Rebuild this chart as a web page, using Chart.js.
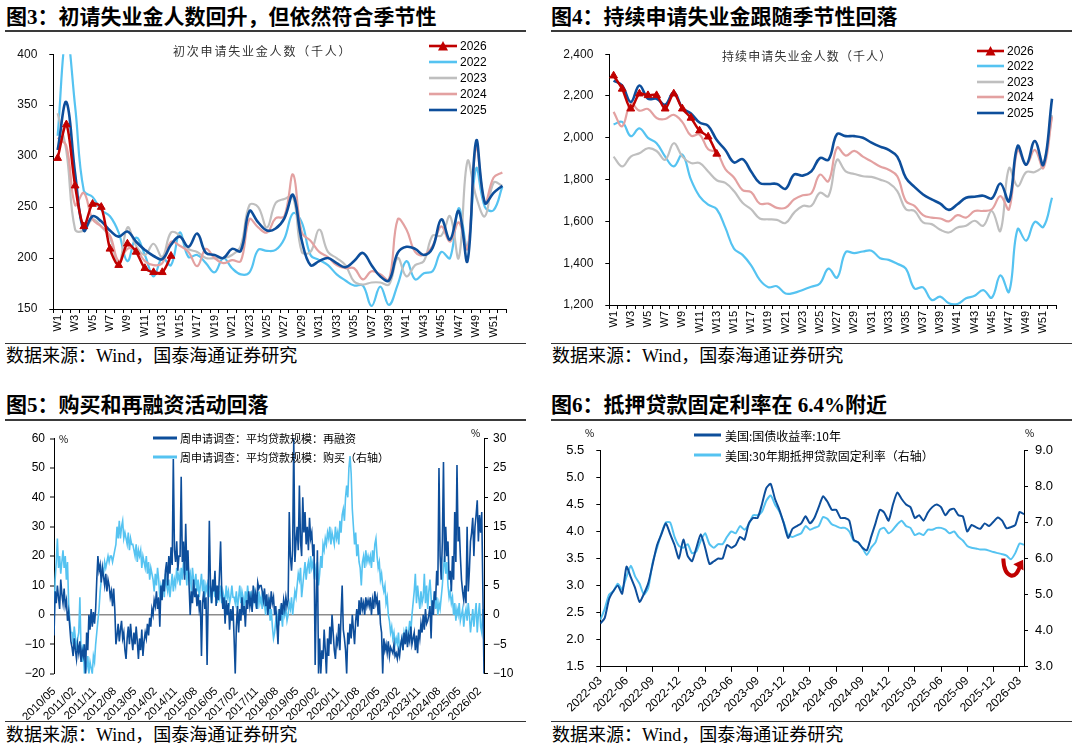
<!DOCTYPE html>
<html><head><meta charset="utf-8">
<script src="https://cdn.jsdelivr.net/npm/chart.js@4.4.1/dist/chart.umd.min.js"></script>
<style>
html,body{margin:0;padding:0;background:#fff;}
#page{position:relative;width:1077px;height:747px;overflow:hidden;background:#fff;font-family:"Liberation Sans",Arial,"Noto Sans CJK SC",sans-serif;}
.title{position:absolute;font-family:"Liberation Serif","Noto Sans CJK SC",serif;font-weight:bold;font-size:21px;color:#000;white-space:nowrap;line-height:24px;}
.rule{position:absolute;height:1.5px;background:#3a3a3a;}
.rule2{position:absolute;height:1px;background:#333;}
.src{position:absolute;font-family:"Liberation Serif","Noto Sans CJK SC",serif;font-size:18px;color:#000;white-space:nowrap;line-height:20px;}
.box{position:absolute;}
.leg{position:absolute;color:#000;white-space:nowrap;display:flex;align-items:center;}
.note{position:absolute;font-family:"Noto Sans CJK SC",sans-serif;font-size:12px;color:#333;white-space:nowrap;line-height:14px;}
.unit{position:absolute;font-family:"Noto Sans CJK SC",sans-serif;font-size:10px;color:#000;line-height:12px;}
</style></head>
<body>
<div id="page">
  <div class="title" style="left:6px;top:5px;">图3：初请失业金人数回升，但依然符合季节性</div>
  <div class="rule" style="left:5px;top:30px;width:521px;"></div>
  <div class="title" style="left:551px;top:5px;">图4：持续申请失业金跟随季节性回落</div>
  <div class="rule" style="left:551px;top:30px;width:521px;"></div>
  <div class="title" style="left:6px;top:393px;">图5：购买和再融资活动回落</div>
  <div class="rule" style="left:5px;top:419px;width:521px;"></div>
  <div class="title" style="left:551px;top:393px;">图6：抵押贷款固定利率在 6.4%附近</div>
  <div class="rule" style="left:551px;top:419px;width:521px;"></div>

  <div class="box" style="left:0px;top:35px;width:530px;height:305px;"><canvas id="c3" width="530" height="305"></canvas></div>
  <div class="box" style="left:537px;top:35px;width:535px;height:305px;"><canvas id="c4" width="535" height="305"></canvas></div>
  <div class="box" style="left:0px;top:425px;width:530px;height:295px;"><canvas id="c5" width="530" height="295"></canvas></div>
  <div class="box" style="left:537px;top:425px;width:535px;height:295px;"><canvas id="c6" width="535" height="295"></canvas></div>

  <div class="note" style="left:173px;top:44px;letter-spacing:1.8px;">初次申请失业金人数（千人）</div>
  <div class="note" style="left:722px;top:49px;letter-spacing:1.1px;">持续申请失业金人数（千人）</div>
  <div class="unit" style="left:59px;top:433px;">%</div>
  <div class="unit" style="left:471px;top:427px;">%</div>
  <div class="unit" style="left:585px;top:427px;">%</div>
  <div class="unit" style="left:1025px;top:427px;">%</div>

  <div class="rule2" style="left:5px;top:343px;width:521px;"></div>
  <div class="src" style="left:6px;top:346px;">数据来源：Wind，国泰海通证券研究</div>
  <div class="rule2" style="left:551px;top:343px;width:521px;"></div>
  <div class="src" style="left:552px;top:346px;">数据来源：Wind，国泰海通证券研究</div>
  <div class="rule2" style="left:5px;top:721px;width:521px;"></div>
  <div class="src" style="left:6px;top:725px;">数据来源：Wind，国泰海通证券研究</div>
  <div class="rule2" style="left:551px;top:721px;width:521px;"></div>
  <div class="src" style="left:552px;top:725px;">数据来源：Wind，国泰海通证券研究</div>
</div>
<script>
// ---------------- DATA ----------------
// Figure 3: initial jobless claims (thousands), weeks W1..W52
const weekLabels = Array.from({length: 52}, (_, i) => 'W' + (i + 1));
const initial2022 = [320, 420, 349, 266, 260, 247, 241, 225, 197, 220, 203, 182, 200, 193, 225, 201, 203, 195, 186, 200, 190, 184, 186, 208, 207, 208, 219, 244, 235, 203, 198, 193, 184, 178, 173, 173, 153, 172, 154, 174, 197, 179, 185, 187, 206, 200, 249, 210, 288, 250, 247, 270];
const initial2023 = [342, 305, 228, 227, 238, 231, 220, 193, 230, 212, 203, 214, 201, 225, 222, 209, 206, 200, 200, 200, 203, 212, 252, 250, 230, 254, 258, 260, 206, 206, 228, 206, 200, 193, 177, 174, 176, 176, 174, 200, 182, 193, 197, 222, 222, 241, 200, 295, 260, 241, 274, 271];
const initial2024 = [318, 310, 252, 264, 238, 231, 222, 197, 209, 208, 197, 193, 195, 216, 212, 206, 192, 209, 200, 195, 198, 197, 238, 230, 225, 239, 241, 282, 225, 217, 206, 201, 193, 190, 190, 179, 187, 184, 179, 238, 228, 206, 203, 212, 231, 216, 235, 209, 309, 254, 279, 284];
const initial2025 = [306, 353, 283, 227, 241, 236, 227, 221, 226, 216, 208, 202, 199, 213, 221, 211, 224, 205, 203, 200, 209, 207, 246, 235, 227, 229, 239, 262, 217, 193, 197, 200, 195, 191, 197, 205, 193, 182, 178, 205, 211, 209, 203, 210, 238, 218, 246, 197, 315, 254, 264, 271];
const initial2026 = [298, 331, 271, 231, 253, 250, 209, 193, 214, 206, 190, 186, 186, 202];

// Figure 4: continuing claims (thousands)
const cont2022 = [2064, 2076, 2008, 2045, 2000, 1974, 1910, 1863, 1920, 1800, 1720, 1680, 1658, 1570, 1470, 1440, 1390, 1320, 1285, 1290, 1255, 1258, 1272, 1287, 1303, 1374, 1331, 1453, 1448, 1456, 1460, 1424, 1416, 1397, 1374, 1279, 1284, 1224, 1240, 1208, 1205, 1232, 1244, 1271, 1235, 1342, 1263, 1563, 1508, 1598, 1574, 1713];
const cont2023 = [1910, 1863, 1910, 1926, 1950, 1937, 1895, 1974, 1910, 1879, 1879, 1839, 1797, 1784, 1745, 1689, 1658, 1614, 1610, 1607, 1592, 1642, 1674, 1674, 1737, 1721, 1895, 1839, 1827, 1816, 1813, 1800, 1784, 1745, 1658, 1650, 1595, 1587, 1560, 1547, 1571, 1579, 1603, 1579, 1650, 1555, 1855, 1768, 1836, 1836, 1871, 2108];
const cont2024 = [2124, 2055, 2165, 2130, 2138, 2095, 2090, 2110, 2075, 2010, 2015, 1945, 1930, 1850, 1810, 1750, 1740, 1685, 1685, 1665, 1665, 1705, 1725, 1734, 1824, 1792, 1953, 1915, 1937, 1910, 1887, 1863, 1847, 1816, 1697, 1674, 1630, 1618, 1614, 1600, 1630, 1618, 1650, 1650, 1658, 1721, 1658, 1942, 1871, 1942, 1855, 2100];
const cont2025 = [2274, 2250, 2171, 2250, 2187, 2187, 2158, 2218, 2143, 2116, 2073, 2057, 1989, 1942, 1882, 1898, 1839, 1784, 1779, 1779, 1756, 1824, 1819, 1839, 1903, 1895, 2018, 2008, 2008, 2000, 1977, 1958, 1942, 1910, 1808, 1765, 1729, 1705, 1685, 1655, 1682, 1713, 1718, 1723, 1710, 1781, 1697, 1961, 1871, 1985, 1871, 2187];
const cont2026 = [2297, 2234, 2139, 2211, 2203, 2203, 2139, 2211, 2139, 2095, 2034, 2005, 1923];

// Figure 5: MBA average loan size YoY (%), half-month steps starting 2010/05
const refiYoY = [
  -7, 8, 4, 10, 6, 2, 12, 7, 4, 9, 3, 5, -2, 1, -4, -9,
  -11, -14, -8, -12, -15, -10, -13, -9, -16, -12, -14, -10, -20, -6, -12, 0, -5, 2, -4, 1, -3, 2, 12, 20,
  15, 17, 11, 16, 13, 10, 14, 8, 12, 10, 6, 8, 3, 9, 2, -10, -7, -3, -9, -5, -2, -8, -6, -12,
  -15, -8, -4, -10, -3, -8, -12, -6, -10, -4, -9, -15, -8, -12, -5, -14, -9, -6, -8, -3, -7, -1, -4, 2,
  0, 5, 3, 8, 2, 6, -4, 10, 5, 12, 8, 15, 18, 10, 20, 14, 23, 17, 53, 22, 18, 25, 15, 20,
  20, 47, 18, 25, 12, 31, 15, 22, 10, 0, 8, 4, 12, 6, 9, 3, 7, 2, 5, -14, 4, 8, 2, 6,
  -17, 6, 32, 10, 4, 12, 8, 15, 3, 10, 5, 14, 25, 8, 2, 6, -3, 5, 0, 4, -5, 2, -2, 3,
  -8, -20, -4, 3, -6, 2, -2, 6, 0, 3, -4, 5, 2, 8, 3, 6, 1, 10, 4, 7, 2, 11, 9, 10,
  10, 8, 5, 9, 3, 7, 0, 5, 2, 8, 4, 6, 0, 3, -3, -10, 2, -2, 4, 0, 5, 2, 6, 3,
  5, 35, 20, 15, 22, 60, 18, 25, 30, 22, 44, 25, 20, 40, 28, 35, 24, 30, 22, 33, 26, 28, 20, 24,
  -17, 5, 22, -20, -8, -20, -12, -15, -5, -12, -20, -8, -14, -4, -10, 0, -6, -12, -15, -8, -10, -3, -12, 0,
  10, -5, -8, -12, -20, -6, -10, -3, -8, 0, -5, -10, -2, 2, -4, 5, 0, 6, 2, 4, 0, 6, 3, 5,
  3, 6, 0, 5, 2, 8, 4, 6, 0, 5, -3, -6, -20, -8, -12, -10, -13, -9, -14, -11, -12, -13, -10, -14,
  -13, -15, -12, -14, -10, -8, -12, -6, -10, -5, -11, -7, -9, -4, -10, -8, -6, -12, -7, -13, -5, -8, -3, -6,
  0, -5, 2, -3, -2, 0, 3, -8, 5, 0, 8, 5, 15, 10, 50, 20, 12, 25, 52, 18, 30, 20, 25, 12,
  15, 8, 20, 12, 35, 18, 51, 25, 30, 20, 12, 8, 5, 10, 4, 30, 8, 15, 25, 28, 33, 20, 30, 34,
  39, 25, 34, 28, 35, 8, -20
];
const purchaseYoY = [
  -2, 6, 9, 13, 8, 10, 7, 9, 11, 8, 10, 6, 9, 2, -1, -3,
  -3, -5, -2, -4, -6, -4, -3, 3, -6, -8, -5, -10, -8, -9, -7, -10, -8, -9, -10, -7, -8, -5, -3, -1,
  1, 4, 6, 8, 7, 9, 8, 9, 10, 9, 10, 10, 9, 10, 11, 12, 15, 13, 16, 13, 15, 16, 13, 14,
  13, 12, 14, 11, 13, 12, 12, 11, 10, 12, 9, 11, 10, 11, 8, 10, 9, 8, 10, 7, 9, 6, 8, 7,
  6, 4, 7, 5, 8, 6, 3, 5, 4, 6, 3, 7, 5, 4, 6, 3, 5, 7, 4, 6, 5, 8, 6, 7,
  5, 8, 6, 9, 7, 8, 5, 9, 6, 7, 4, 8, 6, 5, 7, 4, 6, 3, 5, 7, 4, 6, 3, 5,
  4, 6, 3, 5, 2, 4, 6, 3, 5, 2, 4, 3, 5, 2, 4, 3, 2, 5, 3, 4, 2, 3, 5, 3,
  3, 2, 4, 1, 3, 5, 2, 4, 3, 1, 4, 2, 5, 3, 2, 4, 1, 3, 4, 2, 3, 1, 4, 2,
  3, 1, 4, 2, 0, 2, 1, 3, -1, 1, -2, -4, -3, -1, -2, 0, -1, 1, 0, -2, 2, 0, 1, -1,
  0, 2, 1, 3, 0, 2, 4, 3, 5, 7, 6, 8, 3, 5, 7, 9, 6, 8, 9, 7, 10, 8, 9, 7,
  8, 6, 9, 5, 7, 10, 8, 12, 11, 13, 12, 14, 13, 15, 12, 14, 13, 12, 15, 13, 14, 12, 16, 14,
  17, 18, 16, 20, 22, 20, 25, 27, 24, 18, 15, 12, 14, 10, 12, 9, 8, 5, 9, 10, 8, 11, 9, 10,
  9, 10, 8, 11, 9, 12, 13, 10, 8, 9, 6, 7, 5, 4, 5, 2, 3, 0, -1, -3, -2, -4, -3, -5,
  -4, -5, -3, -6, -5, -4, -6, -3, -4, -2, -5, -3, -1, -3, 0, 2, 4, 7, 2, 5, 3, 1, 4, 2,
  3, 7, 2, 5, 1, 4, 6, 3, 0, 2, 4, 1, 3, 0, 2, 1, 3, 5, 8, 10, 7, 9, 5, 3,
  4, 2, 3, 0, 2, -1, 1, 0, 2, -1, 0, 1, -2, 0, 1, -1, 2, 0, -3, -1, 1, -2, 0, 2,
  -3, 0, 2, -2, -3, 1, -3
];

// Figure 6: half-month steps starting 2022-03
const ust10y = [2.30, 2.40, 2.75, 2.90, 3.00, 2.85, 3.35, 3.15, 2.95, 2.70, 2.85, 3.05, 3.40, 3.75, 3.95, 4.15, 3.95, 3.75, 3.50, 3.85, 3.55, 3.45, 3.70, 3.95, 3.70, 3.40, 3.45, 3.50, 3.50, 3.75, 3.70, 3.75, 3.90, 3.85, 4.15, 4.25, 4.25, 4.50, 4.80, 4.88, 4.60, 4.40, 4.15, 3.88, 4.05, 4.10, 4.15, 4.28, 4.15, 4.25, 4.45, 4.65, 4.55, 4.40, 4.40, 4.25, 4.25, 4.20, 3.85, 3.80, 3.70, 3.65, 3.90, 4.15, 4.40, 4.35, 4.20, 4.50, 4.72, 4.60, 4.50, 4.45, 4.25, 4.30, 4.20, 4.35, 4.45, 4.50, 4.45, 4.30, 4.40, 4.42, 4.30, 4.28, 4.00, 4.12, 4.08, 4.05, 4.15, 4.10, 4.18, 4.26, 4.20, 4.06, 4.08, 4.12, 4.36, 4.32];
const mortgage30y = [4.30, 4.60, 5.00, 5.10, 5.30, 5.15, 5.50, 5.80, 5.50, 5.30, 5.00, 5.20, 5.90, 6.30, 6.70, 7.00, 7.00, 6.60, 6.35, 6.30, 6.40, 6.15, 6.20, 6.50, 6.70, 6.40, 6.30, 6.40, 6.40, 6.60, 6.75, 6.70, 6.90, 6.80, 6.95, 7.20, 7.20, 7.30, 7.60, 7.75, 7.50, 7.30, 7.00, 6.65, 6.60, 6.65, 6.70, 6.90, 6.80, 6.85, 6.90, 7.15, 7.10, 6.95, 6.90, 6.85, 6.85, 6.75, 6.50, 6.45, 6.30, 6.10, 6.30, 6.45, 6.80, 6.85, 6.70, 6.80, 6.95, 7.05, 6.90, 6.85, 6.65, 6.70, 6.65, 6.80, 6.80, 6.85, 6.85, 6.80, 6.70, 6.75, 6.60, 6.50, 6.35, 6.30, 6.28, 6.25, 6.25, 6.22, 6.18, 6.15, 6.12, 6.08, 5.98, 6.15, 6.42, 6.38];

// ---------------- HELPERS ----------------
Chart.defaults.font.family = "'Liberation Sans', Arial, sans-serif";
Chart.defaults.color = '#000';
const C = {red: '#C00000', dark: '#0D4E9B', light: '#55C3F1', gray: '#BFBFBF', pink: '#E3A1A1'};
const noPlugins = {legend: {display: false}, tooltip: {enabled: false}};
const axisGrid = (len) => ({drawOnChartArea: false, drawTicks: true, tickLength: len, color: '#000', lineWidth: 1});
const thousands = v => String(v).replace(/\B(?=(\d{3})+(?!\d))/g, ',');
const minus = v => v < 0 ? '\u2212' + Math.abs(v) : String(v);
const pad2 = n => String(n).padStart(2, '0');
const ym5 = m => { const t = 4 + m; return (2010 + Math.floor(t / 12)) + '/' + pad2(t % 12 + 1); };
const ym6 = m => { const t = 2 + m; return (2022 + Math.floor(t / 12)) + '-' + pad2(t % 12 + 1); };
const halfMonth = arr => arr.map((v, i) => ({x: i * 0.5, y: v}));

function legend(items, o) {
  const page = document.getElementById('page');
  items.forEach((it, k) => {
    const d = document.createElement('div');
    d.className = 'leg';
    d.style.left = o.x + 'px';
    d.style.top = (o.y + k * o.dy - 8) + 'px';
    d.style.height = '16px';
    d.style.fontSize = o.fs + 'px';
    d.style.fontFamily = o.ff;
    const w = o.lw;
    let svg = '<svg width="' + w + '" height="16" style="flex:none"><line x1="0" y1="8" x2="' + w + '" y2="8" stroke="' + it.c + '" stroke-width="' + o.th + '"/>';
    if (it.tri) { const cx = w / 2; svg += '<polygon points="' + (cx - 5) + ',12.5 ' + (cx + 5) + ',12.5 ' + cx + ',3" fill="' + it.c + '"/>'; }
    svg += '</svg>';
    d.innerHTML = svg + '<span style="margin-left:' + o.gap + 'px">' + it.t + '</span>';
    page.appendChild(d);
  });
}

function weeklyChart(id, sets, yr, fmt, L) {
  const ds = sets.map(s => ({
    label: s.label, data: s.data, borderColor: s.color, backgroundColor: s.color,
    borderWidth: s.bw, tension: s.tri ? 0.3 : 0.4, order: s.order,
    pointRadius: s.tri ? 4.5 : 0, pointStyle: 'triangle',
    pointBackgroundColor: s.color, pointBorderColor: s.color, pointBorderWidth: 1
  }));
  return new Chart(document.getElementById(id), {
    type: 'line',
    data: {labels: weekLabels, datasets: ds},
    options: {
      responsive: false, animation: false, devicePixelRatio: 1,
      layout: {padding: {top: L.top, right: L.right, left: 0, bottom: 0}},
      plugins: noPlugins,
      scales: {
        x: {type: 'category', offset: true,
            grid: Object.assign(axisGrid(4), {offset: true}),
            border: {color: '#000', width: 1},
            ticks: {autoSkip: false, minRotation: 90, maxRotation: 90, padding: 2, font: {size: 11},
                    callback: (v, i) => i % 2 === 0 ? weekLabels[i] : ''},
            afterFit: s => { s.height = L.xh; }},
        y: {min: yr[0], max: yr[1],
            ticks: {stepSize: yr[2], padding: L.yp, font: {size: 12}, color: '#111', callback: fmt},
            grid: axisGrid(4), border: {color: '#000', width: 1},
            afterFit: s => { s.width = L.yw; }}
      }
    }
  });
}

// ---------------- FIGURE 3 ----------------
weeklyChart('c3', [
  {label: '2026', data: initial2026, color: C.red, bw: 2.5, tri: true, order: 0},
  {label: '2025', data: initial2025, color: C.dark, bw: 2.6, order: 1},
  {label: '2024', data: initial2024, color: C.pink, bw: 2.2, order: 2},
  {label: '2023', data: initial2023, color: C.gray, bw: 2.2, order: 3},
  {label: '2022', data: initial2022, color: C.light, bw: 2.2, order: 4}
], [150, 400, 50], v => v, {top: 10.7, right: 23.3, xh: 31, yw: 53.3, yp: 12});
legend([
  {t: '2026', c: C.red, tri: true}, {t: '2022', c: C.light}, {t: '2023', c: C.gray},
  {t: '2024', c: C.pink}, {t: '2025', c: C.dark}
], {x: 429, y: 46, dy: 16, lw: 28, th: 2.6, gap: 3, fs: 12, ff: "'Liberation Sans', Arial, sans-serif"});

// ---------------- FIGURE 4 ----------------
weeklyChart('c4', [
  {label: '2026', data: cont2026, color: C.red, bw: 2.5, tri: true, order: 0},
  {label: '2025', data: cont2025, color: C.dark, bw: 2.6, order: 1},
  {label: '2024', data: cont2024, color: C.pink, bw: 2.2, order: 2},
  {label: '2023', data: cont2023, color: C.gray, bw: 2.2, order: 3},
  {label: '2022', data: cont2022, color: C.light, bw: 2.2, order: 4}
], [1200, 2400, 200], thousands, {top: 16.7, right: 15.7, xh: 35, yw: 72.3, yp: 12});
legend([
  {t: '2026', c: C.red, tri: true}, {t: '2022', c: C.light}, {t: '2023', c: C.gray},
  {t: '2024', c: C.pink}, {t: '2025', c: C.dark}
], {x: 977, y: 51, dy: 15.4, lw: 27, th: 2.6, gap: 3, fs: 12, ff: "'Liberation Sans', Arial, sans-serif"});

// ---------------- FIGURE 5 ----------------
new Chart(document.getElementById('c5'), {
  type: 'line',
  data: {datasets: [
    {label: '周申请调查：平均贷款规模：再融资', data: halfMonth(refiYoY), yAxisID: 'y', borderColor: C.dark, borderWidth: 1.6, pointRadius: 0, tension: 0, order: 0},
    {label: '周申请调查：平均贷款规模：购买（右轴）', data: halfMonth(purchaseYoY), yAxisID: 'y1', borderColor: C.light, borderWidth: 1.6, pointRadius: 0, tension: 0, order: 1}
  ]},
  options: {
    responsive: false, animation: false, devicePixelRatio: 1,
    layout: {padding: {top: 13.5, right: 0, left: 0, bottom: 0}},
    plugins: noPlugins,
    scales: {
      x: {type: 'linear', min: 0, max: 191,
          afterBuildTicks: s => { const t = []; for (let m = 0; m <= 189; m += 9) t.push({value: m}); s.ticks = t; },
          ticks: {autoSkip: false, minRotation: 45, maxRotation: 45, padding: 3, font: {size: 11.5}, callback: v => ym5(v)},
          grid: {display: false}, border: {display: false},
          afterFit: s => { s.height = 46.3; }},
      y: {position: 'left', min: -20, max: 60,
          ticks: {stepSize: 10, padding: 5, font: {size: 12}, callback: minus},
          grid: {drawOnChartArea: true, drawTicks: true, tickLength: 4, tickColor: '#000', tickWidth: 1,
                 color: c => (c.tick && c.tick.value === 0) ? '#8c8c8c' : 'rgba(0,0,0,0)',
                 lineWidth: c => (c.tick && c.tick.value === 0) ? 1.6 : 0},
          border: {color: '#000', width: 1},
          afterFit: s => { s.width = 54; }},
      y1: {position: 'right', min: -10, max: 30,
          ticks: {stepSize: 5, padding: 5, font: {size: 12}, callback: minus},
          grid: axisGrid(4), border: {color: '#000', width: 1},
          afterFit: s => { s.width = 46; }}
    }
  }
});
legend([
  {t: '周申请调查：平均贷款规模：再融资', c: C.dark},
  {t: '周申请调查：平均贷款规模：购买（右轴）', c: C.light}
], {x: 153, y: 438, dy: 19.3, lw: 24, th: 3, gap: 3, fs: 11, ff: "'Noto Sans CJK SC', sans-serif"});

// ---------------- FIGURE 6 ----------------
const arrowNote = {from: [46.13, 3.50], c1: [46.2, 3.12], c2: [47.7, 3.08], to: [48.1, 3.40]};
const arrowPlugin = {
  id: 'arrowNote',
  afterDatasetsDraw(chart) {
    const x = chart.scales.x, y = chart.scales.y, ctx = chart.ctx;
    const P = p => [x.getPixelForValue(p[0]), y.getPixelForValue(p[1])];
    const a = P(arrowNote.from), b = P(arrowNote.c1), c = P(arrowNote.c2), d = P(arrowNote.to);
    ctx.save();
    ctx.strokeStyle = C.red; ctx.fillStyle = C.red; ctx.lineWidth = 4; ctx.lineCap = 'butt';
    ctx.beginPath(); ctx.moveTo(a[0], a[1]); ctx.bezierCurveTo(b[0], b[1], c[0], c[1], d[0], d[1]); ctx.stroke();
    const ang = Math.atan2(d[1] - c[1], d[0] - c[0]) + 0.35;
    const L = 9, W = 6;
    const tip = [d[0] + Math.cos(ang) * 5, d[1] + Math.sin(ang) * 5];
    ctx.beginPath();
    ctx.moveTo(tip[0], tip[1]);
    ctx.lineTo(tip[0] - Math.cos(ang) * L - Math.sin(ang) * W, tip[1] - Math.sin(ang) * L + Math.cos(ang) * W);
    ctx.lineTo(tip[0] - Math.cos(ang) * L + Math.sin(ang) * W, tip[1] - Math.sin(ang) * L - Math.cos(ang) * W);
    ctx.closePath(); ctx.fill();
    ctx.restore();
  }
};
new Chart(document.getElementById('c6'), {
  type: 'line',
  data: {datasets: [
    {label: '美国:国债收益率:10年', data: halfMonth(ust10y), yAxisID: 'y', borderColor: C.dark, borderWidth: 2, pointRadius: 0, tension: 0.2, order: 0},
    {label: '美国:30年期抵押贷款固定利率（右轴）', data: halfMonth(mortgage30y), yAxisID: 'y1', borderColor: C.light, borderWidth: 2, pointRadius: 0, tension: 0.2, order: 1}
  ]},
  options: {
    responsive: false, animation: false, devicePixelRatio: 1,
    layout: {padding: {top: 25.3, right: 0, left: 0, bottom: 0}},
    plugins: noPlugins,
    scales: {
      x: {type: 'linear', min: 0, max: 48.5,
          afterBuildTicks: s => { const t = []; for (let m = 0; m <= 48; m += 3) t.push({value: m}); s.ticks = t; },
          ticks: {autoSkip: false, minRotation: 45, maxRotation: 45, padding: 2, font: {size: 12}, callback: v => ym6(v)},
          grid: axisGrid(5), border: {color: '#000', width: 1},
          afterFit: s => { s.height = 53.2; }},
      y: {position: 'left', min: 1.5, max: 5.5,
          ticks: {stepSize: 0.5, padding: 12, font: {size: 13}, callback: v => v.toFixed(1)},
          grid: axisGrid(4), border: {color: '#000', width: 1},
          afterFit: s => { s.width = 63.3; }},
      y1: {position: 'right', min: 3, max: 9,
          ticks: {stepSize: 1, padding: 7, font: {size: 13}, callback: v => v.toFixed(1)},
          grid: axisGrid(4), border: {color: '#000', width: 1},
          afterFit: s => { s.width = 48; }}
    }
  },
  plugins: [arrowPlugin]
});
legend([
  {t: '美国:国债收益率:10年', c: C.dark},
  {t: '美国:30年期抵押贷款固定利率（右轴）', c: C.light}
], {x: 694, y: 435, dy: 20, lw: 27, th: 3, gap: 4, fs: 12, ff: "'Noto Sans CJK SC', sans-serif"});
</script>
</body></html>
